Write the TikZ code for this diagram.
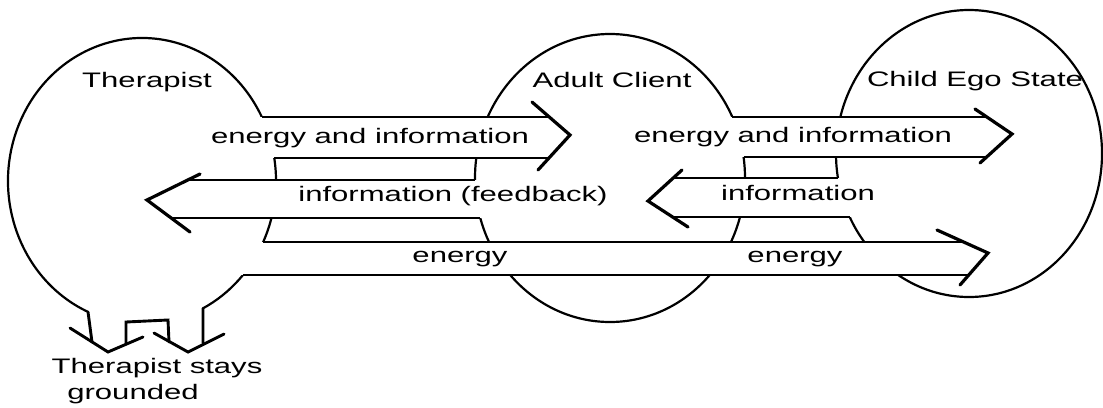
\documentclass[tikz,border=0pt]{standalone}
\usepackage{fontspec}
\setmainfont{Liberation Sans}
\begin{document}
\begin{tikzpicture}[x=1pt,y=-1pt,
  outline/.style={line width=2.2pt},
  shaft/.style={line width=2.3pt},
  barb/.style={line width=3.2pt, line cap=round, line join=miter},
  leg/.style={line width=2.9pt, line join=miter, line cap=round},
  body/.style={fill=white},
  lbl/.style={font=\fontsize{21}{24}\selectfont, inner sep=0pt, anchor=base,
              xscale=1.48, transform shape},
  % x on an ellipse (centre cx, radius rx, centre cy, radius ry) at height y
  declare function={ex(\a,\b,\c,\d,\e)=\a+\b*sqrt(1-((\e-\c)/\d)*((\e-\c)/\d));}]
\useasboundingbox (0,0) rectangle (1103,407);

% ellipse parameters: therapist, adult client, child ego state
\def\Tcx{142}\def\Tcy{181}\def\Trx{134}\def\Try{143}
\def\Acx{610}\def\Acy{178}\def\Arx{135}\def\Ary{144}
\def\Ccx{969}\def\Ccy{153.5}\def\Crx{133}\def\Cry{143.5}

% therapist: open at the bottom where the legs begin
\pgfmathsetmacro\TLa{acos((88-\Tcx)/\Trx)}
\pgfmathsetmacro\TRa{acos((203-\Tcx)/\Trx)+360}
\coordinate (legL) at ({\Tcx+\Trx*cos(\TLa)},{\Tcy+\Try*sin(\TLa)});
\coordinate (legR) at ({\Tcx+\Trx*cos(\TRa)},{\Tcy+\Try*sin(\TRa)});
\draw[outline] (legL) arc[start angle=\TLa, end angle=\TRa, x radius=\Trx, y radius=\Try];

\draw[outline] (\Acx,\Acy) ellipse [x radius=\Arx, y radius=\Ary];
\draw[outline] (\Ccx,\Ccy) ellipse [x radius=\Crx, y radius=\Cry];

% legs and feet
\draw[leg] (legL) -- (92,342);
\draw[leg] (70,328) -- (108,352) -- (143,337);
\draw[leg] (126,343) -- (126,322) -- (168,320) -- (169,342);
\draw[leg] (154,333) -- (188,352) -- (224,334);
\draw[leg] (legR) -- (203,343);

% arrow bodies hide the outlines they pass over
\fill[body] (200,117) rectangle (549,158);
\fill[body] (180,180) rectangle (600,218);
\fill[body] (200,242) rectangle (966,275);
\fill[body] (700,117) rectangle (987,157);
\fill[body] (660,178) rectangle (900,217);

% energy and information: therapist -> adult client
\coordinate (h1) at (570,135);
\draw[shaft] ({ex(\Tcx,\Trx,\Tcy,\Try,117)},117) -- (549,117);
\draw[shaft] ({ex(\Tcx,\Trx,\Tcy,\Try,158)},158) -- (549,158);
\draw[barb] (532,102) -- (h1) -- (538,170);

% information (feedback): adult client -> therapist
\coordinate (h2) at (147,200);
\draw[shaft] ({ex(\Acx,-\Arx,\Acy,\Ary,180)},180) -- (188,180);
\draw[shaft] ({ex(\Acx,-\Arx,\Acy,\Ary,218)},218) -- (171,218);
\draw[barb] (200,174) -- (h2) -- (190,232);

% energy: therapist -> child ego state
\coordinate (h3) at (988,253);
\draw[shaft] ({ex(\Tcx,\Trx,\Tcy,\Try,242)},242) -- (964,242);
\draw[shaft] ({ex(\Tcx,\Trx,\Tcy,\Try,275)},275) -- (969,275);
\draw[barb] (937,230) -- (h3) -- (960,285);

% energy and information: adult client -> child ego state
\coordinate (h4) at (1012,134);
\draw[shaft] ({ex(\Acx,\Arx,\Acy,\Ary,117)},117) -- (987,117);
\draw[shaft] ({ex(\Acx,\Arx,\Acy,\Ary,157)},157) -- (987,157);
\draw[barb] (975,109) -- (h4) -- (980,163);

% information: child ego state -> adult client
\coordinate (h5) at (648,201);
\draw[shaft] ({ex(\Ccx,-\Crx,\Ccy,\Cry,178)},178) -- (673,178);
\draw[shaft] ({ex(\Ccx,-\Crx,\Ccy,\Cry,217)},217) -- (673,217);
\draw[barb] (682,170) -- (h5) -- (688,227);

% labels
\node[lbl] (tTher)  at (147,87)  {Therapist};
\node[lbl] (tAdult) at (612,87)  {Adult Client};
\node[lbl] (tChild) at (975,86)  {Child Ego State};
\node[lbl] (l1)     at (370,143) {energy and information};
\node[lbl] (l2)     at (453,201) {information (feedback)};
\node[lbl] (l3a)    at (460,262) {energy};
\node[lbl] (l3b)    at (795,262) {energy};
\node[lbl] (l4)     at (793,142) {energy and information};
\node[lbl] (l5)     at (798,200) {information};
\node[lbl] (tStay)  at (157,373) {Therapist stays};
\node[lbl] (tGrnd)  at (133,399) {grounded};
\end{tikzpicture}
\end{document}
